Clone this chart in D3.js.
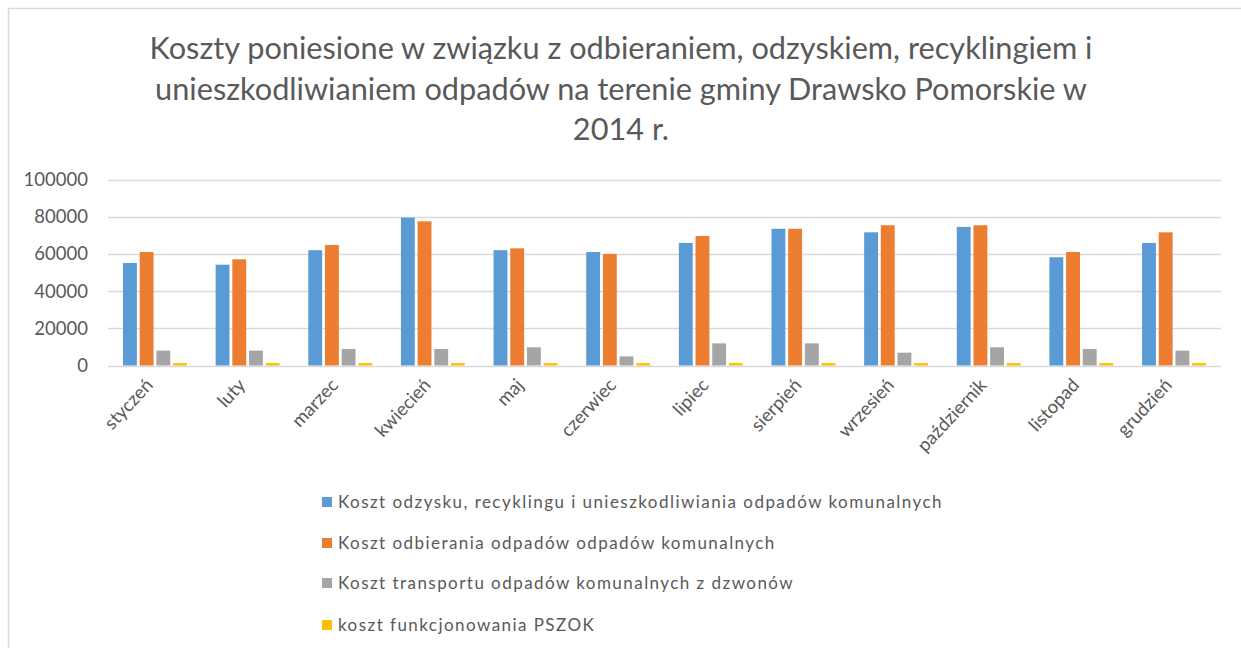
<!DOCTYPE html>
<html>
<head>
<meta charset="utf-8">
<script src="https://cdn.jsdelivr.net/npm/d3@7"></script>
<style>
  body { margin: 0; background: #fff; }
  text { font-family: Lato, "Open Sans", sans-serif; fill: #595959; }
</style>
</head>
<body>
<svg id="chart" width="1241" height="648"></svg>
<script>
const months = ['styczeń', 'luty', 'marzec', 'kwiecień', 'maj', 'czerwiec', 'lipiec', 'sierpień', 'wrzesień', 'październik', 'listopad', 'grudzień'];
const seriesNames = [
	'Koszt odzysku, recyklingu i unieszkodliwiania odpadów komunalnych',
	'Koszt odbierania odpadów odpadów komunalnych',
	'Koszt transportu odpadów komunalnych z dzwonów',
	'koszt funkcjonowania PSZOK'
];
const odzysk = [55100, 54200, 62000, 79500, 62000, 61000, 65900, 73500, 71600, 74500, 58200, 65900];
const odbieranie = [61000, 57100, 64800, 77500, 63000, 60000, 69600, 73500, 75400, 75400, 61000, 71600];
const transport = [8000, 8000, 8900, 8900, 9800, 4900, 11900, 11900, 6900, 9800, 8900, 8000];
const pszok = [1300, 1300, 1300, 1300, 1300, 1300, 1300, 1300, 1300, 1300, 1300, 1300];
const yTicks = [0, 20000, 40000, 60000, 80000, 100000];
const titleLines = [
	'Koszty poniesione w związku z odbieraniem, odzyskiem, recyklingiem i',
	'unieszkodliwianiem odpadów na terenie gminy Drawsko Pomorskie w',
	'2014 r.'
];
const colors = ['#5b9bd5', '#ed7d31', '#a5a5a5', '#ffc000'];

const allSeries = [odzysk, odbieranie, transport, pszok];
const table = months.map((m, i) => ({ month: m, values: allSeries.map(s => s[i]) }));

const svg = d3.select('#chart');

// frame (cropped screenshot: only top and left edges visible)
svg.append('path')
	.attr('d', 'M8.5,648 V8.5 H1241')
	.attr('fill', 'none')
	.attr('stroke', '#d9d9d9')
	.attr('stroke-width', 1.5);

// fit a text element to a target width
function fitWidth(sel, target) {
	const w = sel.node().getComputedTextLength();
	const fs = parseFloat(sel.attr('font-size'));
	sel.attr('font-size', fs * target / w);
}

// title
const title = svg.selectAll('.title')
	.data(titleLines).enter()
	.append('text')
	.attr('class', 'title')
	.attr('x', 621)
	.attr('y', (d, i) => 59 + i * 40.5)
	.attr('text-anchor', 'middle')
	.attr('font-size', 28)
	.text(d => d);
const t0 = d3.select(title.nodes()[0]);
fitWidth(t0, 943);
title.attr('font-size', t0.attr('font-size'));

const x0 = d3.scaleBand()
	.domain(months)
	.range([108, 1221])
	.paddingInner(0.31)
	.paddingOuter(0.162);
const x1 = d3.scaleBand()
	.domain(d3.range(4))
	.range([0, x0.bandwidth()])
	.paddingInner(0.17);
const y = d3.scaleLinear()
	.domain([0, 100000])
	.range([365.5, 179.5]);

// gridlines
svg.append('g')
	.selectAll('line')
	.data(yTicks).enter()
	.append('line')
	.attr('x1', 108)
	.attr('x2', 1221)
	.attr('y1', d => Math.round(y(d)) + 0.5)
	.attr('y2', d => Math.round(y(d)) + 0.5)
	.attr('stroke', '#d9d9d9')
	.attr('stroke-width', 1.3);

// y axis labels
const yAxis = svg.append('g')
	.attr('transform', 'translate(88,0)')
	.call(d3.axisLeft(y).tickValues(yTicks).tickSize(0).tickPadding(0).tickFormat(d3.format('d')));
yAxis.select('.domain').remove();
yAxis.selectAll('text')
	.attr('font-size', 18.5)
	.attr('fill', '#595959')
	.style('font-family', 'Lato, sans-serif');

// bars
const groups = svg.append('g')
	.selectAll('g')
	.data(table).enter()
	.append('g')
	.attr('transform', d => `translate(${x0(d.month)},0)`);
groups.selectAll('rect')
	.data(d => d.values).enter()
	.append('rect')
	.attr('x', (d, i) => x1(i))
	.attr('width', x1.bandwidth())
	.attr('y', d => y(d))
	.attr('height', d => y(0) - y(d))
	.attr('fill', (d, i) => colors[i]);

// x labels rotated
svg.append('g')
	.selectAll('text')
	.data(months).enter()
	.append('text')
	.attr('transform', d => `translate(${x0(d) + x0.bandwidth() / 2 - 1},386) rotate(-47)`)
	.attr('text-anchor', 'end')
	.attr('font-size', 18.5)
	.text(d => d);

// legend
const legend = svg.append('g')
	.selectAll('g')
	.data(seriesNames).enter()
	.append('g')
	.attr('transform', (d, i) => `translate(322,${[502, 543, 583, 625][i]})`);
legend.append('rect')
	.attr('x', 0)
	.attr('y', -5)
	.attr('width', 10)
	.attr('height', 10)
	.attr('fill', (d, i) => colors[i]);
legend.append('text')
	.attr('x', 16)
	.attr('y', 6)
	.attr('font-size', 17)
	.attr('letter-spacing', 1.45)
	.text(d => d);
</script>
</body>
</html>
